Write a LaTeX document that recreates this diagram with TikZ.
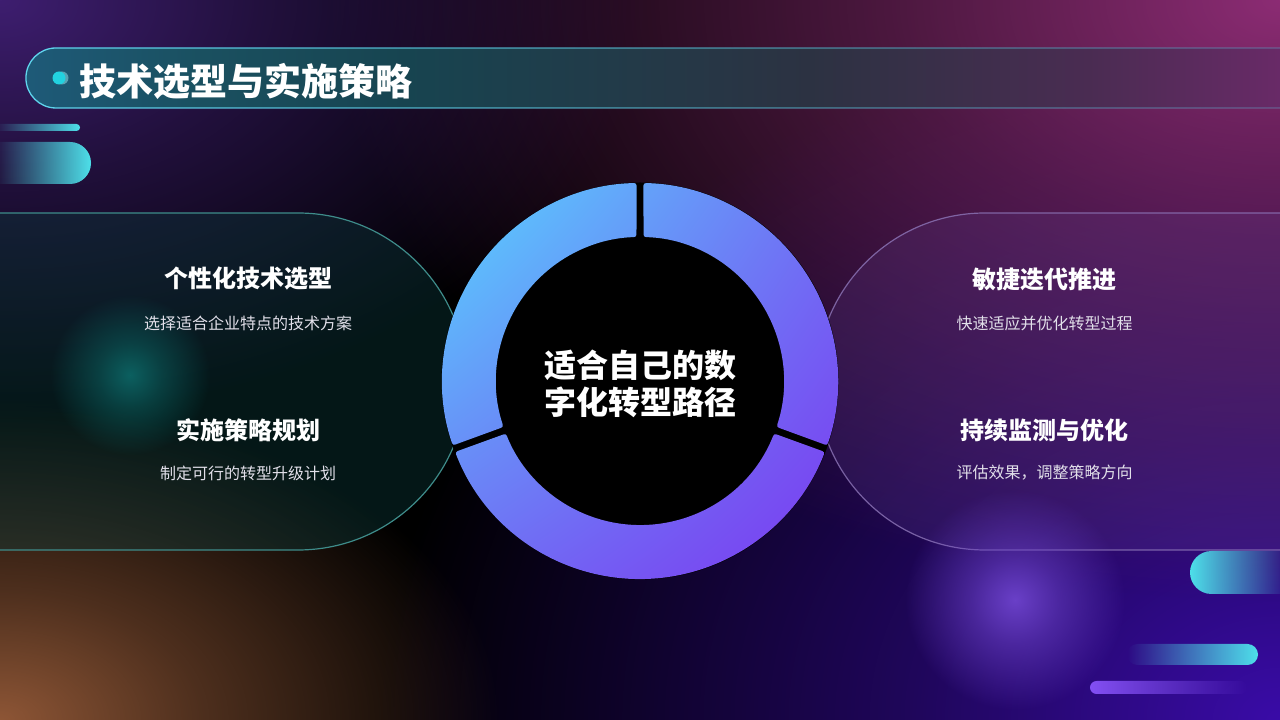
\documentclass[tikz,border=0pt]{standalone}
\usepackage{fontspec}
\setmainfont{Noto Sans CJK SC}
\usetikzlibrary{fadings,shadings}
\definecolor{ringcyan}{HTML}{56DAFF}
\definecolor{ringblue}{HTML}{7070F4}
\definecolor{ringpurple}{HTML}{7C36F0}
\definecolor{barcyan}{HTML}{4EE0EA}
\definecolor{barpurple}{HTML}{8450F5}
\definecolor{subgray}{HTML}{E2E0EA}
\definecolor{tbA}{HTML}{1E5A78}
\definecolor{tbB}{HTML}{1A5060}
\definecolor{tbC}{HTML}{174450}
\definecolor{tbD}{HTML}{2C3242}
\definecolor{tbE}{HTML}{4A2C52}
\definecolor{tbF}{HTML}{6A2A68}
\pgfdeclarehorizontalshading{titleshade}{100bp}{color(0bp)=(tbA); color(25bp)=(tbA); color(32bp)=(tbB); color(40bp)=(tbC); color(56bp)=(tbD); color(67bp)=(tbE); color(75bp)=(tbF); color(100bp)=(tbF)}
\pgfdeclarehorizontalshading{fadeinshade}{100bp}{color(0bp)=(pgftransparent!100); color(25bp)=(pgftransparent!100); color(75bp)=(pgftransparent!0); color(100bp)=(pgftransparent!0)}
\pgfdeclarefading{fadein}{\pgfuseshading{fadeinshade}}
\pgfdeclarehorizontalshading{fadeoutshade}{100bp}{color(0bp)=(pgftransparent!0); color(25bp)=(pgftransparent!0); color(75bp)=(pgftransparent!100); color(100bp)=(pgftransparent!100)}
\pgfdeclarefading{fadeout}{\pgfuseshading{fadeoutshade}}
\pgfdeclarehorizontalshading{barshade}{100bp}{color(0bp)=(pgftransparent!0); color(25bp)=(pgftransparent!0); color(75bp)=(pgftransparent!70); color(100bp)=(pgftransparent!70)}
\pgfdeclarefading{barfade}{\pgfuseshading{barshade}}
\pgfdeclareradialshading{glowshade}{\pgfpointorigin}{color(0bp)=(pgftransparent!0); color(10bp)=(pgftransparent!45); color(25bp)=(pgftransparent!100); color(50bp)=(pgftransparent!100)}
\pgfdeclarefading{glowfade}{\pgfuseshading{glowshade}}
\begin{document}
\begin{tikzpicture}[x=1pt,y=1pt,
  glow/.style={path fading=glowfade},
  cardtitle/.style={text=white,font=\fontsize{24}{28}\selectfont\bfseries},
  cardsub/.style={text=subgray,font=\fontsize{16}{20}\selectfont}]
\useasboundingbox (0,0) rectangle (1280,720);
\clip (0,0) rectangle (1280,720);
% background
\fill[black] (0,0) rectangle (1280,720);
\fill[glow,color={rgb,255:red,58;green,12;blue,168}] (1280,0) ellipse (900 and 700);
\fill[glow,color={rgb,255:red,140;green,44;blue,116}] (1280,720) ellipse (950 and 600);
\fill[glow,color={rgb,255:red,62;green,30;blue,112}] (0,720) ellipse (650 and 420);
\fill[glow,color={rgb,255:red,142;green,86;blue,54}] (0,0) ellipse (500 and 320);
% title bar
\shade[shading=titleshade]
  (1290,612) -- (56,612) arc[start angle=270,end angle=90,radius=30] -- (1290,672) -- cycle;
\draw[color={rgb,255:red,96;green,214;blue,238},line width=1.3,path fading=barfade]
  (1290,612) -- (56,612) arc[start angle=270,end angle=90,radius=30] -- (1290,672);
\fill[barcyan!60,opacity=0.5] (62,642) circle (6.5);
\fill[color={rgb,255:red,34;green,210;blue,224}] (59,642) circle (6.5);
\node[anchor=west,inner sep=0,text=white,font=\fontsize{37}{42}\selectfont\bfseries] (title) at (79,639) {技术选型与实施策略};
% side bars
\fill[barcyan,path fading=fadein] (-5,589) -- (76.5,589) arc[start angle=-90,end angle=90,radius=3.5] -- (-5,596) -- cycle;
\fill[barcyan,path fading=fadein] (-5,536) -- (70,536) arc[start angle=-90,end angle=90,radius=21] -- (-5,578) -- cycle;
\fill[barcyan,path fading=fadeout] (1290,126) -- (1211.5,126) arc[start angle=270,end angle=90,radius=21.5] -- (1290,169) -- cycle;
\fill[barcyan,path fading=fadein,rounded corners=10.5] (1127,55) rectangle (1258,76);
\fill[barpurple,path fading=fadeout,rounded corners=6.5] (1090,26) rectangle (1247,39);
% cards
\filldraw[fill={rgb,255:red,10;green,58;blue,58},fill opacity=0.4,draw={rgb,255:red,62;green,140;blue,138},line width=1.2]
  (-2,507) -- (298,507) arc[start angle=90,end angle=-90,radius=168.5] -- (-2,170);
\filldraw[fill={rgb,255:red,106;green,74;blue,160},fill opacity=0.18,draw={rgb,255:red,141;green,118;blue,184},draw opacity=0.8,line width=1.2]
  (1282,507) -- (985,507) arc[start angle=90,end angle=270,radius=168.5] -- (1282,170);
\fill[glow,color={rgb,255:red,12;green,96;blue,96}] (130,345) ellipse (80 and 80);
\fill[glow,color={rgb,255:red,106;green,64;blue,200}] (1015,120) ellipse (110 and 110);
% ring
\coordinate (ring) at (640,339);
\fill[black] (ring) circle (198.5);
\begin{scope}[shift={(ring)}]
\clip[rounded corners=2.5]
  (91:198) arc[start angle=91,end angle=199,radius=198] -- (198.6:144) arc[start angle=198.6,end angle=91.4,radius=144] -- cycle
  (201:198) arc[start angle=201,end angle=339,radius=198] -- (338.6:144) arc[start angle=338.6,end angle=201.4,radius=144] -- cycle
  (341:198) arc[start angle=341,end angle=449,radius=198] -- (448.6:144) arc[start angle=448.6,end angle=341.4,radius=144] -- cycle;
\shade[upper left=ringcyan,upper right=ringblue,lower left=ringblue,lower right=ringpurple] (-206,-206) rectangle (206,206);
\end{scope}
\node[align=center,text=white,font=\fontsize{32}{37}\selectfont\bfseries] (core) at (640,336) {适合自己的数\\字化转型路径};
% texts
\node[cardtitle] (l1) at (248,441) {个性化技术选型};
\node[cardsub] (l1s) at (248,397) {选择适合企业特点的技术方案};
\node[cardtitle] (l2) at (248,290) {实施策略规划};
\node[cardsub] (l2s) at (248,247) {制定可行的转型升级计划};
\node[cardtitle] (r1) at (1044.5,441) {敏捷迭代推进};
\node[cardsub] (r1s) at (1044.5,397) {快速适应并优化转型过程};
\node[cardtitle] (r2) at (1044.5,290) {持续监测与优化};
\node[cardsub] (r2s) at (1044.5,247) {评估效果，调整策略方向};
\end{tikzpicture}
\end{document}
